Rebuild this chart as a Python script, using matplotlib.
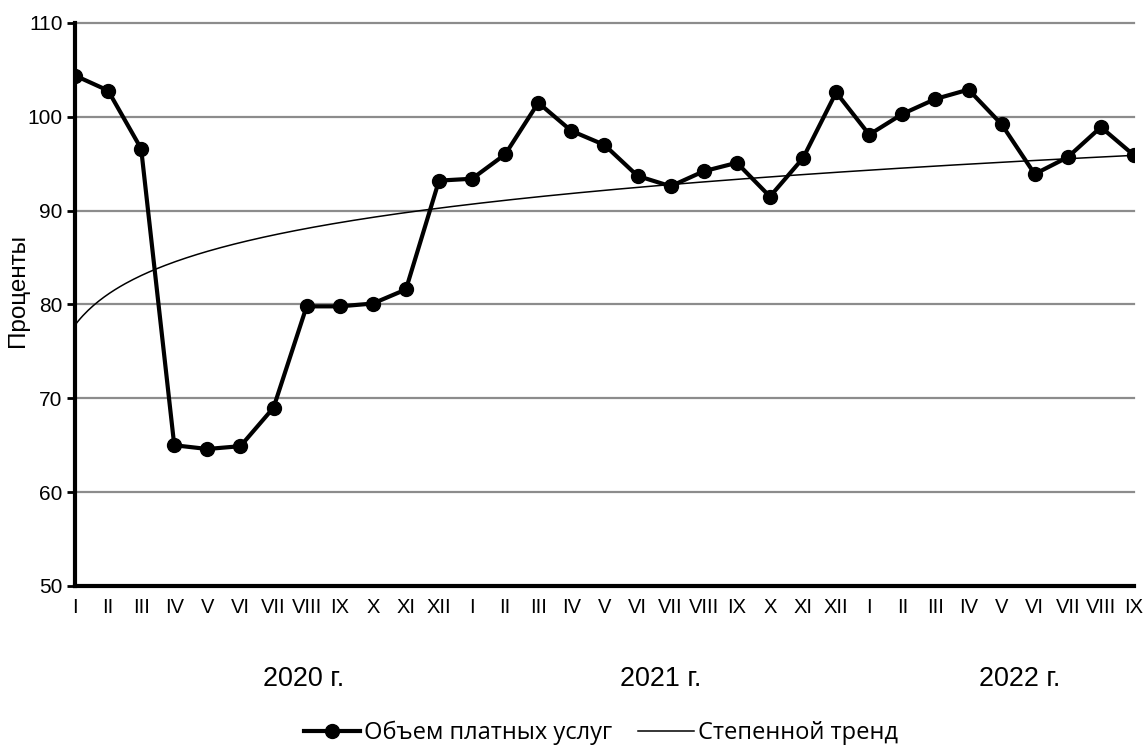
import matplotlib.pyplot as plt
import numpy as np

plt.rcParams["font.family"] = ["Liberation Sans", "DejaVu Sans"]

months = ["I", "II", "III", "IV", "V", "VI", "VII", "VIII", "IX", "X", "XI", "XII",
          "I", "II", "III", "IV", "V", "VI", "VII", "VIII", "IX", "X", "XI", "XII",
          "I", "II", "III", "IV", "V", "VI", "VII", "VIII", "IX"]
volume = [104.4, 102.8, 96.6, 65.0, 64.6, 64.9, 69.0, 79.8, 79.8, 80.1, 81.6, 93.2,
          93.4, 96.0, 101.5, 98.5, 97.0, 93.7, 92.6, 94.2, 95.1, 91.5, 95.6, 102.6,
          98.1, 100.3, 101.9, 102.9, 99.2, 93.9, 95.7, 98.9, 95.9]
years = ["2020 г.", "2021 г.", "2022 г."]
year_pos = [6.9, 17.7, 28.55]

# power trend y = a * t^b, t = 1..n
trend_a = 77.8
trend_b = 0.0598

x = np.arange(len(volume))
t = np.linspace(1, len(volume), 400)
trend = trend_a * t ** trend_b

fig = plt.figure(figsize=(11.48, 7.46), dpi=100)
ax = fig.add_axes([0.0653, 0.2145, 0.9225, 0.7547])

ax.plot(x, volume, color="black", lw=3, marker="o", ms=10, zorder=3,
        label="Объем платных услуг")
ax.plot(t - 1, trend, color="black", lw=1.1, zorder=2, label="Степенной тренд")

ax.set_xlim(0, len(volume) - 1)
ax.set_ylim(50, 110)
ax.set_yticks(np.arange(50, 111, 10))
ax.set_xticks(x)
ax.set_xticklabels(months, fontsize=14.5)
ax.tick_params(axis="x", length=0, pad=9)
ax.tick_params(axis="y", length=6, width=2, labelsize=15, pad=3)
ax.grid(axis="y", color="#8c8c8c", lw=1.6)
for gl in ax.get_ygridlines():
    gl.set_clip_on(False)
ax.set_axisbelow(True)
for side in ["top", "right"]:
    ax.spines[side].set_visible(False)
for side in ["left", "bottom"]:
    ax.spines[side].set_linewidth(3)
ax.set_ylabel("Проценты", fontsize=17.5)
ax.yaxis.set_label_coords(-0.0435, 0.5255)

for name, pos in zip(years, year_pos):
    ax.text(pos, 40.1, name, ha="center", va="center", fontsize=19.4)

leg = fig.legend(loc="center", bbox_to_anchor=(0.5235, 0.0174), ncol=2, frameon=False,
                 prop={"family": "Open Sans", "size": 17}, handlelength=2.35,
                 handletextpad=0.17, columnspacing=1.1)

fig.savefig("out.png", dpi=100)
